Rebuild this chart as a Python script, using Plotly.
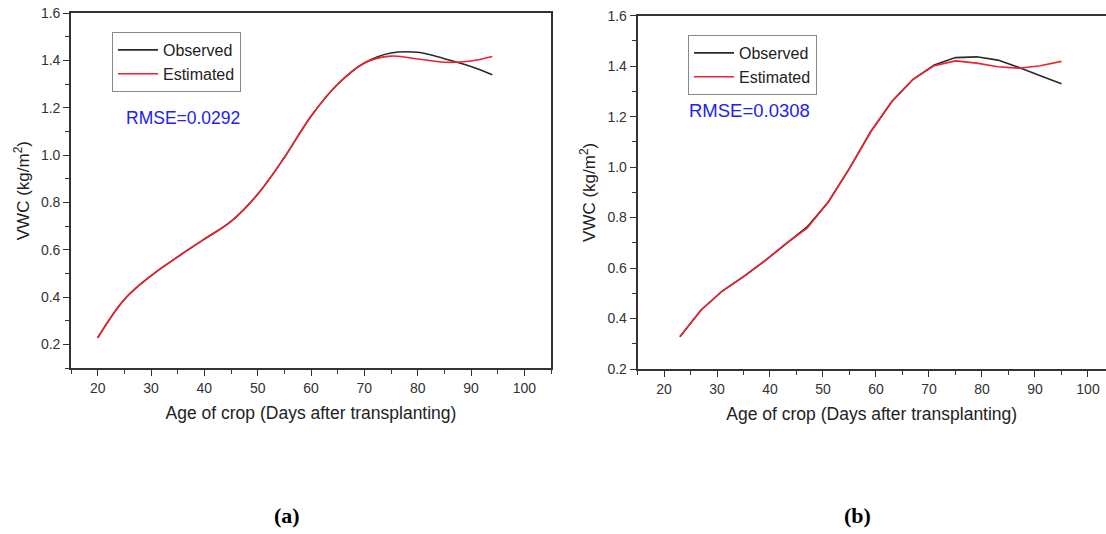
import plotly.graph_objects as go

# Panel (a): smoothed daily-interval series
days_a = [20, 25, 30, 35, 40, 45, 50, 55, 60, 65, 70, 75, 80, 85, 90, 94]
observed_a = [0.228, 0.39, 0.49, 0.57, 0.645, 0.72, 0.835, 0.99, 1.165, 1.30, 1.39, 1.432, 1.435, 1.408, 1.375, 1.34]
estimated_a = [0.228, 0.39, 0.49, 0.57, 0.645, 0.72, 0.835, 0.99, 1.165, 1.30, 1.39, 1.419, 1.407, 1.393, 1.398, 1.417]

# Panel (b): 4-day sampling
days_b = [23, 27, 31, 35, 39, 43, 47, 51, 55, 59, 63, 67, 71, 75, 79, 83, 87, 91, 95]
observed_b = [0.328, 0.434, 0.509, 0.566, 0.628, 0.697, 0.763, 0.862, 0.995, 1.14, 1.26, 1.348, 1.405, 1.434, 1.437, 1.424, 1.395, 1.362, 1.33]
estimated_b = [0.328, 0.434, 0.509, 0.566, 0.628, 0.697, 0.758, 0.862, 0.995, 1.14, 1.26, 1.348, 1.402, 1.421, 1.412, 1.398, 1.392, 1.402, 1.419]

rmse_labels = ["RMSE=0.0292", "RMSE=0.0308"]
panel_labels = ["(a)", "(b)"]

OBS_COLOR = "#2a2a2a"
EST_COLOR = "#f02030"
AXIS_COLOR = "#333333"
FONT = "Liberation Sans, Arial, sans-serif"
W, H = 1106, 534

fig = go.Figure()

fig.add_trace(go.Scatter(x=days_a, y=observed_a, name="Observed", mode="lines",
                         line=dict(color=OBS_COLOR, width=1.6, shape="spline", smoothing=1.0),
                         xaxis="x", yaxis="y", legend="legend"))
fig.add_trace(go.Scatter(x=days_a, y=estimated_a, name="Estimated", mode="lines",
                         line=dict(color=EST_COLOR, width=1.6, shape="spline", smoothing=1.0),
                         xaxis="x", yaxis="y", legend="legend"))
fig.add_trace(go.Scatter(x=days_b, y=observed_b, name="Observed", mode="lines",
                         line=dict(color=OBS_COLOR, width=1.6),
                         xaxis="x2", yaxis="y2", legend="legend2"))
fig.add_trace(go.Scatter(x=days_b, y=estimated_b, name="Estimated", mode="lines",
                         line=dict(color=EST_COLOR, width=1.6),
                         xaxis="x2", yaxis="y2", legend="legend2"))


def x_axis(domain, rng, anchor, mirror):
    return dict(
        domain=domain, range=rng, anchor=anchor, automargin=False,
        showline=True, linecolor=AXIS_COLOR, linewidth=1.6, mirror=mirror,
        showgrid=False, zeroline=False,
        ticks="outside", ticklen=6, tickwidth=1.4, tickcolor=AXIS_COLOR,
        tick0=20, dtick=10,
        minor=dict(ticks="outside", ticklen=4, tickwidth=1.2, tickcolor=AXIS_COLOR, dtick=5, tick0=15, showgrid=False),
        tickfont=dict(family=FONT, size=14, color="#333333"),
        title=dict(text="Age of crop (Days after transplanting)", standoff=12,
                   font=dict(family=FONT, size=17.5, color="#222222")),
    )


def y_axis(domain, rng, anchor, mirror):
    return dict(
        domain=domain, range=rng, anchor=anchor, automargin=False,
        showline=True, linecolor=AXIS_COLOR, linewidth=1.6, mirror=mirror,
        showgrid=False, zeroline=False,
        ticks="outside", ticklen=6, tickwidth=1.4, tickcolor=AXIS_COLOR,
        tick0=0.2, dtick=0.2, tickformat=".1f",
        minor=dict(ticks="outside", ticklen=4, tickwidth=1.2, tickcolor=AXIS_COLOR, dtick=0.1, tick0=0.1, showgrid=False),
        tickfont=dict(family=FONT, size=14, color="#333333"),
        title=dict(text="VWC (kg/m<sup>2</sup>)", standoff=7,
                   font=dict(family=FONT, size=17, color="#222222")),
    )


legend_style = dict(
    bgcolor="rgba(255,255,255,0)", bordercolor="#888888", borderwidth=1,
    font=dict(family=FONT, size=16, color="#222222"),
    xanchor="left", yanchor="top", tracegroupgap=0, itemwidth=40,
)

fig.update_layout(
    width=W, height=H,
    margin=dict(l=0, r=0, t=0, b=0, autoexpand=False),
    paper_bgcolor="white", plot_bgcolor="white",
    showlegend=True,
    xaxis=x_axis([71 / W, 551 / W], [15, 105], "y", True),
    yaxis=y_axis([1 - 368 / H, 1 - 13.3 / H], [0.1, 1.6], "x", True),
    xaxis2=x_axis([637.5 / W, 1.0], [15, 103.4], "y2", True),
    yaxis2=y_axis([1 - 369 / H, 1 - 15.7 / H], [0.2, 1.6], "x2", False),
    legend=dict(x=112 / W, y=1 - 32 / H, **legend_style),
    legend2=dict(x=688 / W, y=1 - 35 / H, **legend_style),
)

# RMSE annotations
fig.add_annotation(x=124 / W, y=1 - 118 / H, xref="paper", yref="paper",
                   xanchor="left", yanchor="middle", showarrow=False,
                   text=rmse_labels[0], font=dict(family=FONT, size=17.5, color="#2222ee"))
fig.add_annotation(x=687 / W, y=1 - 110 / H, xref="paper", yref="paper",
                   xanchor="left", yanchor="middle", showarrow=False,
                   text=rmse_labels[1], font=dict(family=FONT, size=18.5, color="#2222ee"))

# Panel labels
for cx, lab in zip([287, 857], panel_labels):
    fig.add_annotation(x=cx / W, y=1 - 515 / H, xref="paper", yref="paper",
                       xanchor="center", yanchor="middle", showarrow=False,
                       text="<b>" + lab + "</b>",
                       font=dict(family="Liberation Serif, Times New Roman, serif", size=22, color="#000000"))

fig.write_html("out.html")
